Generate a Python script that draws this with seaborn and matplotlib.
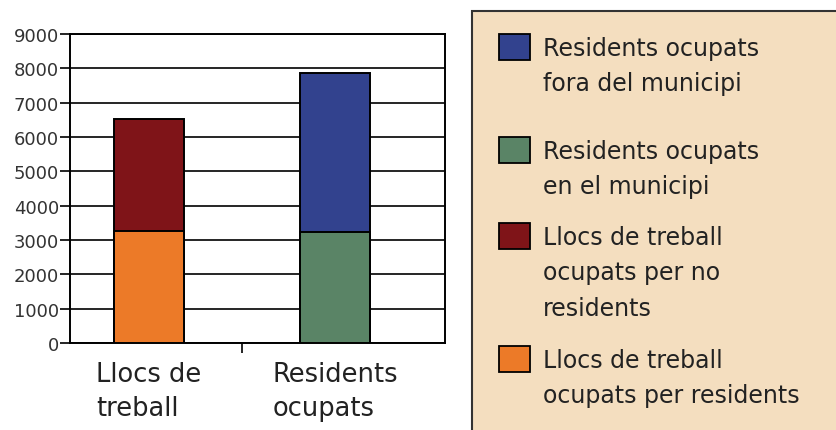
import pandas as pd
import seaborn as sns
import matplotlib.pyplot as plt
from matplotlib.patches import Rectangle

categories = ["Llocs de\ntreball", "Residents\nocupats"]
bottom_values = [3270, 3220]   # ocupats per residents / ocupats en el municipi
top_values = [3255, 4636]      # ocupats per no residents / fora del municipi
bottom_colors = ["#EC7A28", "#5A8466"]
top_colors = ["#7F1418", "#32428E"]

legend_labels = [
    "Residents ocupats\nfora del municipi",
    "Residents ocupats\nen el municipi",
    "Llocs de treball\nocupats per no\nresidents",
    "Llocs de treball\nocupats per residents",
]
legend_colors = ["#32428E", "#5A8466", "#7F1418", "#EC7A28"]

df = pd.DataFrame({
    "cat": categories,
    "bottom": bottom_values,
    "total": [b + t for b, t in zip(bottom_values, top_values)],
})

sns.set_theme(style="white")
plt.rcParams["font.family"] = ["DejaVu Sans"]

fig = plt.figure(figsize=(8.37, 4.31), dpi=100)
ax = fig.add_axes([0.0836, 0.2019, 0.4481, 0.7169])

# stacked: draw totals first, then lower segment on top
sns.barplot(data=df, x="cat", y="total", hue="cat", palette=top_colors,
            width=0.376, edgecolor="black", linewidth=1.4, legend=False,
            saturation=1, ax=ax, zorder=3)
sns.barplot(data=df, x="cat", y="bottom", hue="cat", palette=bottom_colors,
            width=0.376, edgecolor="black", linewidth=1.4, legend=False,
            saturation=1, ax=ax, zorder=4)

ax.set_xlim(-0.425, 1.591)
ax.set_ylim(0, 9000)
ax.set_yticks(range(0, 9001, 1000))
ax.set_xlabel("")
ax.set_ylabel("")
ax.grid(axis="y", color="black", linewidth=1.2, zorder=0)
ax.set_axisbelow(True)
for s in ax.spines.values():
    s.set_visible(True)
    s.set_color("black")
    s.set_linewidth(1.4)

ax.tick_params(axis="y", left=True, length=7, width=1.2, color="black",
               labelsize=13, labelcolor="#333333", pad=1)
ax.set_xticks([0, 1])
ax.set_xticklabels(categories)
ax.tick_params(axis="x", which="major", length=0, labelsize=18.5,
               labelcolor="#222222", pad=13)
ax.set_xticks([0.5], minor=True)
ax.tick_params(axis="x", which="minor", bottom=True, length=7, width=1.2,
               color="black")
for lab in ax.get_xticklabels():
    lab.set_multialignment("left")
    lab.set_linespacing(1.4)

# legend panel
fig.patches.append(Rectangle((472 / 837, -0.05), 0.5, 1 - 12 / 431 + 0.05,
                             transform=fig.transFigure, facecolor="#F4DEBF",
                             edgecolor="#333333", linewidth=1.5, zorder=0))
entry_tops = [35, 138, 224, 347]
for lbl, col, top in zip(legend_labels, legend_colors, entry_tops):
    fig.patches.append(Rectangle((499 / 837, 1 - (top + 26) / 431), 31 / 837, 26 / 431,
                                 transform=fig.transFigure, facecolor=col,
                                 edgecolor="black", linewidth=1.3, zorder=2))
    fig.text(543 / 837, 1 - (top + 2) / 431, lbl, ha="left", va="top",
             fontsize=17, color="#222222", linespacing=1.6, zorder=3)

plt.savefig("out.png", dpi=100)
